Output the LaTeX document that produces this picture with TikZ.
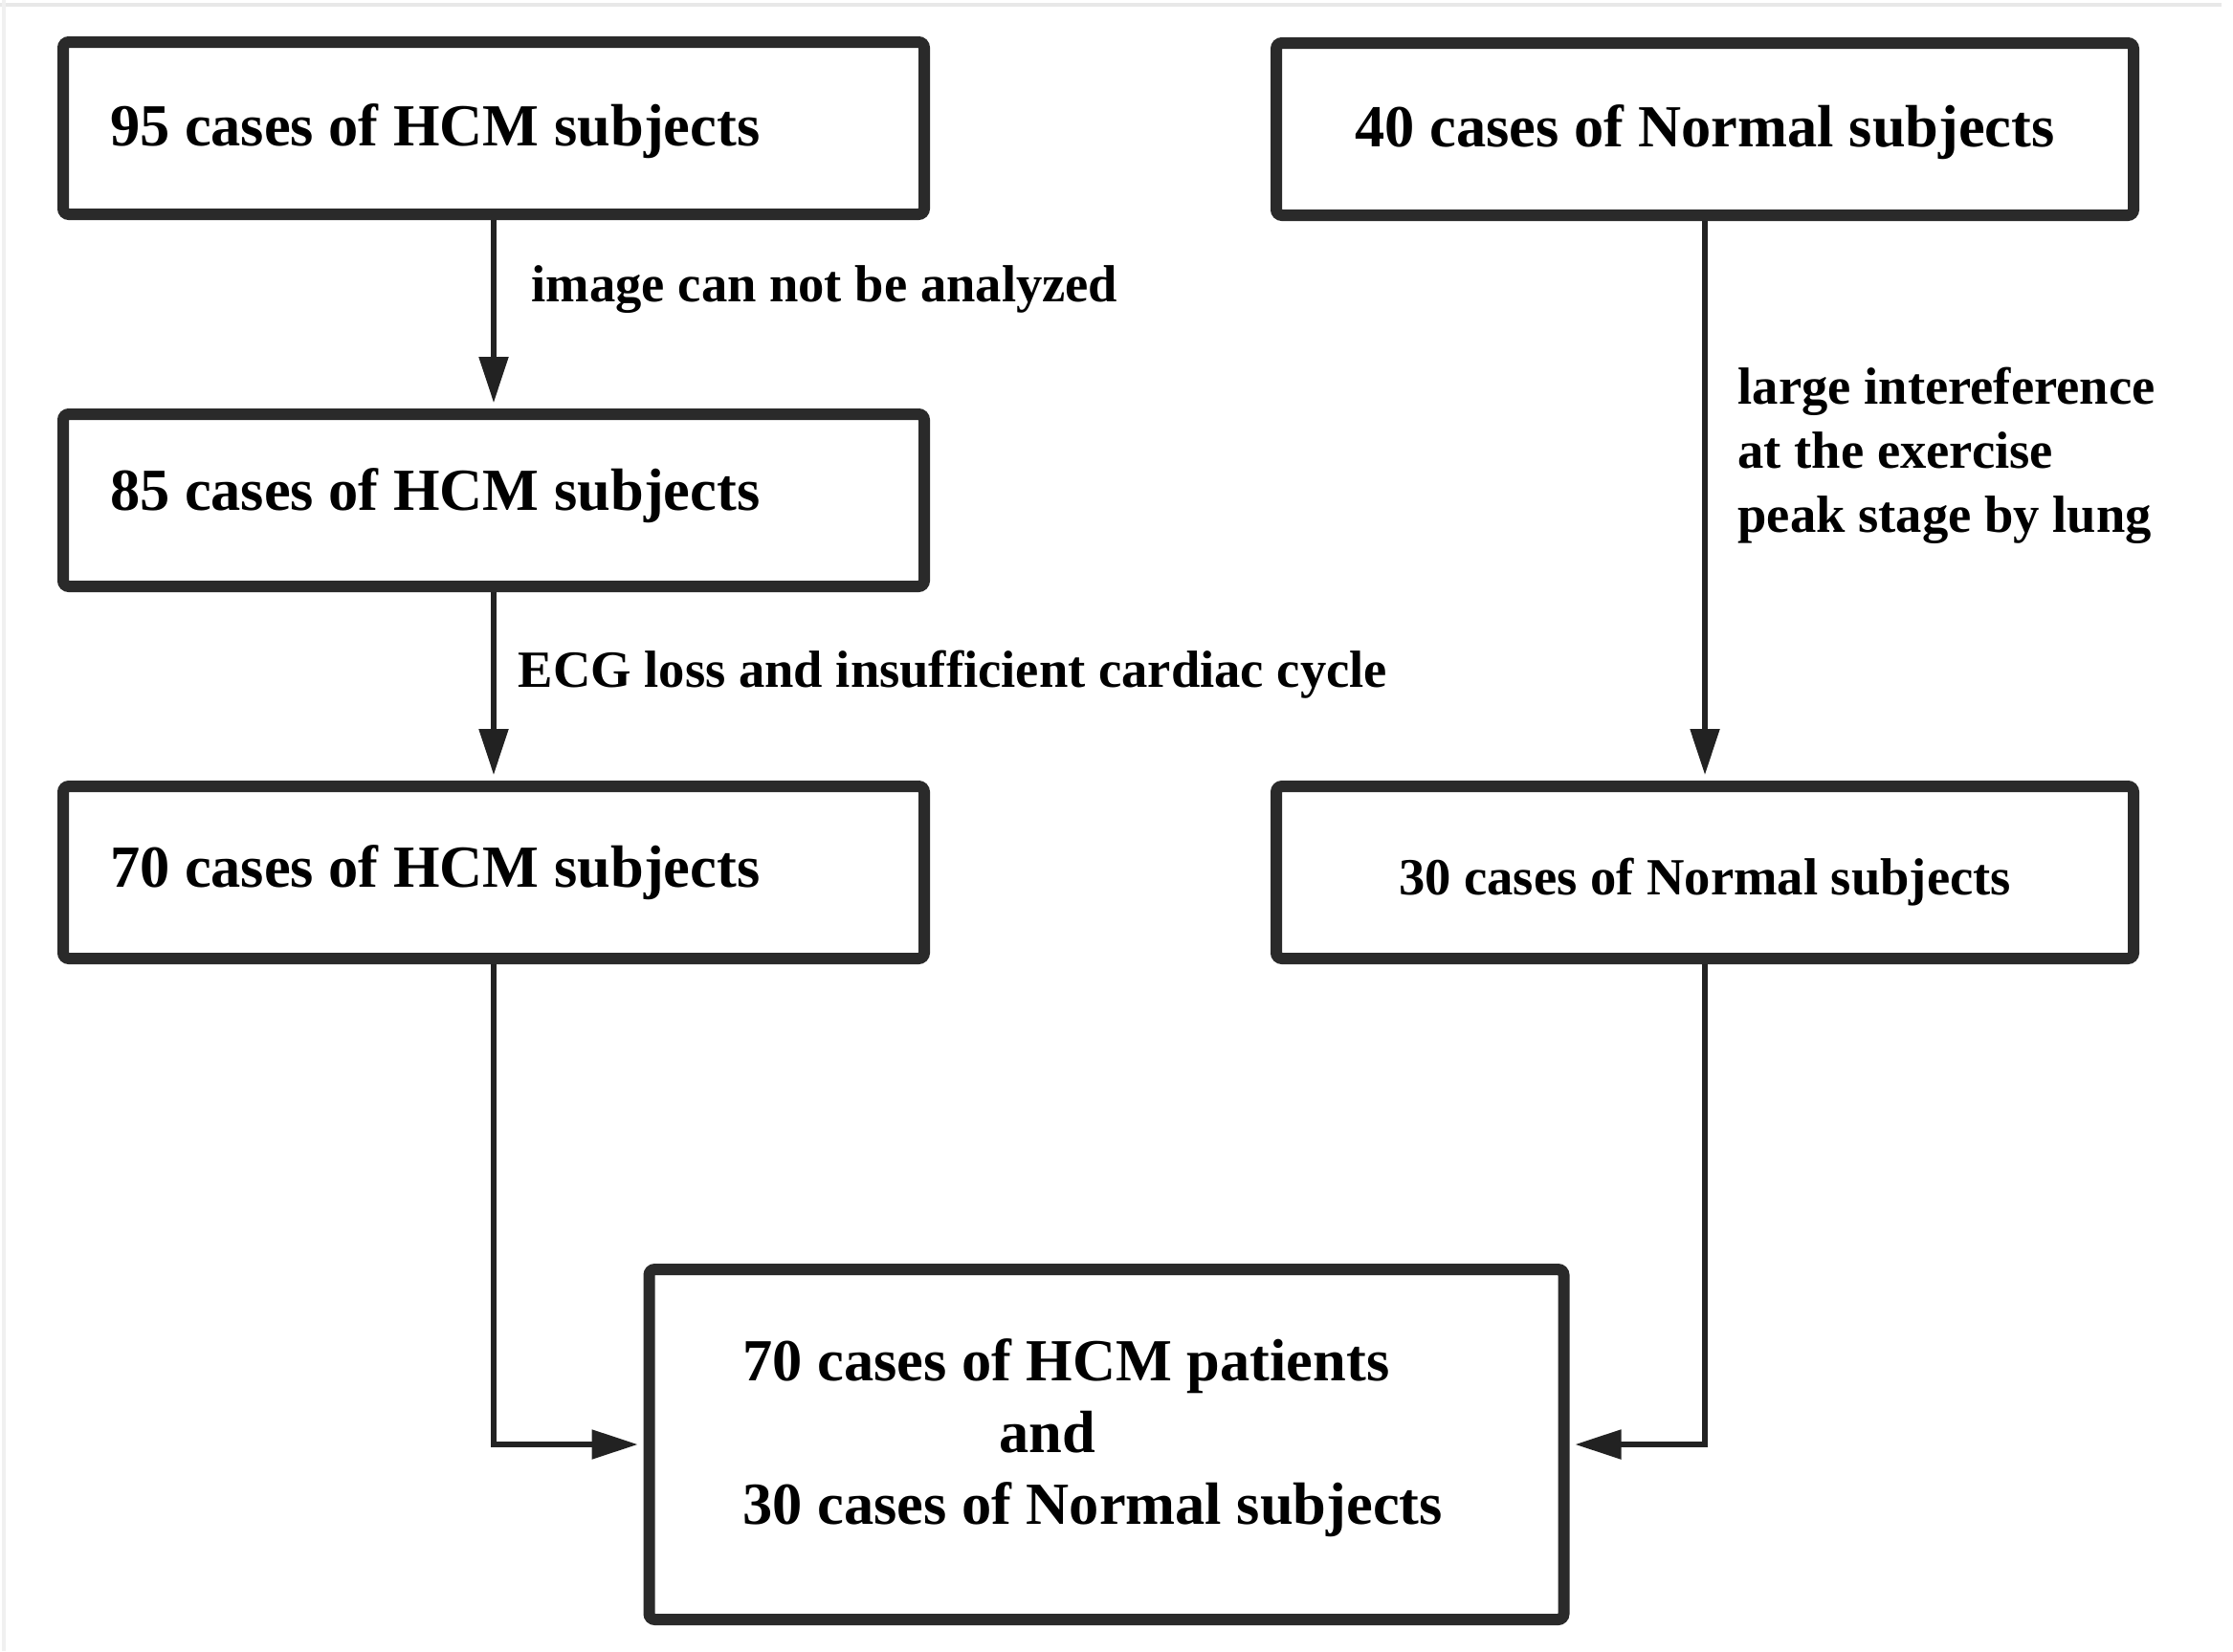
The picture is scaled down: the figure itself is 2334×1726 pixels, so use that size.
\documentclass[tikz,border=0pt]{standalone}
\usepackage{fontspec}
\setmainfont{Liberation Serif}
\usetikzlibrary{arrows.meta}
\definecolor{boxc}{HTML}{2A2A2A}
\definecolor{linec}{HTML}{222222}
\newcommand{\shifttext}[2]{\raisebox{#1}[\height][\depth]{#2}}
\begin{document}
\begin{tikzpicture}[x=0.25pt,y=-0.25pt,
  box/.style={draw=boxc, line width=3pt, rounded corners=1.5pt, fill=white, minimum height=45pt, inner ysep=0pt},
  lbox/.style={box, big, minimum width=225pt, text width=200.5pt, inner xsep=12.25pt, align=flush left},
  big/.style={font=\fontsize{15.6}{18.75}\selectfont\bfseries},
  small/.style={font=\fontsize{13.65}{16.75}\selectfont\bfseries},
  conn/.style={draw=linec, line width=1.3pt, -{Triangle[length=12pt,width=7.5pt]}, shorten >=1.5pt},
  lbl/.style={small, inner sep=0pt, anchor=west, align=left}]
\useasboundingbox (0,0) rectangle (2334,1726);
\fill[white] (0,0) rectangle (2334,1726);
\draw[gray!18, line width=1.2pt] (0,5) -- (2322,5);
\draw[gray!12, line width=1pt] (4,0) -- (4,1726);

\node[lbox] (b1) at (516,134) {\shifttext{-0.75pt}{95 cases of HCM subjects}};
\node[lbox] (b2) at (516,523) {\shifttext{1.1pt}{85 cases of HCM subjects}};
\node[lbox] (b3) at (516,912) {70 cases of HCM subjects};
\node[box, big, minimum width=224pt] (b4) at (1782,135) {\shifttext{-0.7pt}{40 cases of Normal subjects}};
\node[box, small, minimum width=224pt] (b5) at (1782,912) {\shifttext{-2.6pt}{30 cases of Normal subjects}};
\node[box, big, minimum width=239pt, minimum height=91.5pt, text width=190pt, inner xsep=24.5pt, align=flush left] (b6) at (1156.5,1510)
  {\shifttext{1.7pt}{70 cases of HCM patients}\\\hspace*{67pt}\shifttext{1.7pt}{and}\\\shifttext{1.7pt}{30 cases of Normal subjects}};

\draw[conn] (b1) -- node[lbl, pos=0.37, xshift=9.25pt] {image can not be analyzed} (b2);
\draw[conn] (b2) -- node[lbl, pos=0.435, xshift=5.75pt] {ECG loss and insufficient cardiac cycle} (b3);
\draw[conn] (b4) -- node[lbl, pos=0.42, xshift=8pt] {large intereference\\at the exercise\\peak stage by lung} (b5);
\draw[conn] (b3) |- (b6);
\draw[conn] (b5) |- (b6);
\end{tikzpicture}
\end{document}
